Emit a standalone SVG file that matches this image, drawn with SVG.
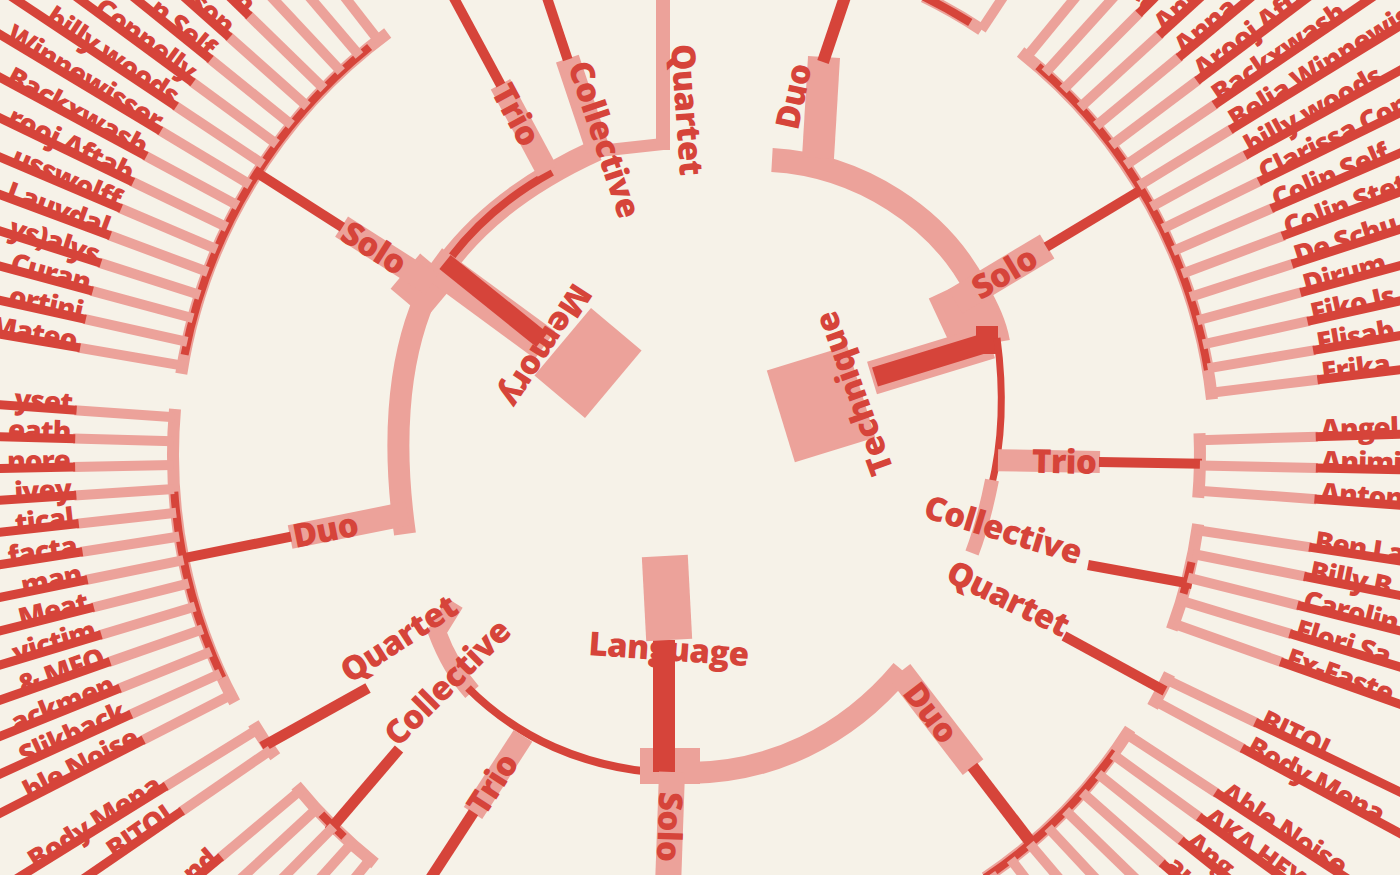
<svg xmlns="http://www.w3.org/2000/svg" xmlns:xlink="http://www.w3.org/1999/xlink" width="1400" height="875" viewBox="0 0 1400 875">
<style>
.lp{stroke:#eca29a;stroke-width:10;fill:none}
.ld{stroke:#d6443a;stroke-width:9;fill:none}
.ap{stroke:#eca29a;stroke-width:12;fill:none}
.ad{stroke:#d6443a;stroke-width:8;fill:none}
.sp{stroke:#eca29a;fill:none}
.sd{stroke:#d6443a;fill:none}
.pf{fill:#eca29a}
.df{fill:#d6443a}
text{font-family:"Open Sans","Noto Sans","Liberation Sans",sans-serif;font-weight:800;fill:#d6443a}
.n{font-size:28px;letter-spacing:-1px}
.b{font-size:33px;letter-spacing:-0.6px}
.e{text-anchor:end}
</style>
<defs>
<g id="R515"><line class="lp" x1="1215" y1="455" x2="1324" y2="455"/><line class="ld" x1="1322" y1="455" x2="1760" y2="455"/></g>
<g id="R500"><line class="lp" x1="1200" y1="455" x2="1318" y2="455"/><line class="ld" x1="1316" y1="455" x2="1760" y2="455"/></g>
<g id="R503"><line class="lp" x1="1203" y1="455" x2="1318" y2="455"/><line class="ld" x1="1316" y1="455" x2="1760" y2="455"/></g>
<g id="R518"><line class="lp" x1="1218" y1="455" x2="1318" y2="455"/><line class="ld" x1="1316" y1="455" x2="1760" y2="455"/></g>
<g id="R510"><line class="lp" x1="1210" y1="455" x2="1318" y2="455"/><line class="ld" x1="1316" y1="455" x2="1760" y2="455"/></g>
<g id="L525"><line class="lp" x1="175" y1="455" x2="69" y2="455"/><line class="ld" x1="71" y1="455" x2="-420" y2="455"/></g>
<g id="L527"><line class="lp" x1="173" y1="455" x2="73" y2="455"/><line class="ld" x1="75" y1="455" x2="-420" y2="455"/></g>
<g id="L521"><line class="lp" x1="179" y1="455" x2="70" y2="455"/><line class="ld" x1="72" y1="455" x2="-420" y2="455"/></g>
<g id="L522"><line class="lp" x1="178" y1="455" x2="73" y2="455"/><line class="ld" x1="75" y1="455" x2="-420" y2="455"/></g>
</defs>
<rect width="1400" height="875" fill="#f6f2e8"/>

<g id="connectors">
<path class="ap" d="M 1020.6,52 A 515 515 0 0 1 1212,399.4"/>
<path class="ad" d="M 1037.9,66.3 A 515 515 0 0 1 1207.9,370"/>
<path class="ap" d="M 923.6,-3.4 A 510 510 0 0 1 981.5,29.7"/>
<path class="ad" d="M 923.6,-3.4 A 510 510 0 0 1 970.3,22.5"/>
<path class="ap" d="M 1199.5,433.2 A 500 500 0 0 1 1198.2,497.7"/>
<path class="ap" d="M 1198.2,524.1 A 503 503 0 0 1 1171.8,629.5"/>
<path class="ad" d="M 1191.5,562.2 A 503 503 0 0 1 1183.5,593.6"/>
<path class="ap" d="M 1169.5,673.9 A 518 518 0 0 1 1152.6,706.9"/>
<path class="ap" d="M 1130.1,729 A 510 510 0 0 1 985.2,877.8"/>
<path class="ad" d="M 1115.2,751.2 A 510 510 0 0 1 985.2,877.8"/>
<path class="ap" d="M 181.3,373.8 A 525 525 0 0 1 387.7,33"/>
<path class="ad" d="M 184.6,354.8 A 525 525 0 0 1 369.6,47"/>
<path class="ap" d="M 234.7,702.4 A 527 527 0 0 1 175,409.1"/>
<path class="ad" d="M 222.4,677.7 A 527 527 0 0 1 174.3,491.8"/>
<path class="ap" d="M 275.3,756.8 A 521 521 0 0 1 253.4,723.3"/>
<path class="ap" d="M 375,863.5 A 522 522 0 0 1 296.1,785.6"/>
<path class="ad" d="M 344,836.8 A 522 522 0 0 1 321.4,814.3"/>

<path class="sp" stroke-width="22" d="M 405,534 C 393,450 396,365 425,298 C 460,232 520,185 597,150"/>
<path class="sp" stroke-width="12" d="M 590,152 L 663,144"/>
<path class="sd" stroke-width="8" d="M 428,292 C 462,232 510,195 552,172"/>
<rect class="pf" x="-23" y="-23" width="46" height="46" transform="translate(423,286) rotate(40)"/>
<line class="sp" stroke-width="34" x1="432" y1="262" x2="545" y2="345"/>
<line class="sd" stroke-width="18" x1="445" y1="262" x2="542" y2="340"/>
<g transform="rotate(32.5 700 455)"><line class="sp" stroke-width="24" x1="382" y1="455" x2="275" y2="455"/><line class="sd" stroke-width="10" x1="276" y1="455" x2="172" y2="455"/></g>
<g transform="rotate(-11.3 700 455)"><line class="sp" stroke-width="24" x1="402" y1="455" x2="282" y2="455"/><line class="sd" stroke-width="10" x1="283" y1="455" x2="170" y2="455"/></g>
<g transform="rotate(61.7 700 455)"><line class="sp" stroke-width="22" x1="378" y1="455" x2="279" y2="455"/><line class="sd" stroke-width="10" x1="280" y1="455" x2="150" y2="455"/></g>
<g transform="rotate(71.5 700 455)"><line class="sp" stroke-width="24" x1="378" y1="455" x2="282" y2="455"/><line class="sd" stroke-width="10" x1="283" y1="455" x2="150" y2="455"/></g>
<line class="sp" stroke-width="14" x1="663" y1="150" x2="663" y2="-5"/>

<path class="sp" stroke-width="24" d="M 772,160 C 860,165 940,218 976,288 C 988,310 995,325 998,342"/>
<line class="sp" stroke-width="32" x1="818" y1="158" x2="824" y2="57"/>
<line class="sd" stroke-width="12" x1="823" y1="62" x2="846" y2="-6"/>
<rect class="pf" x="-28" y="-28" width="56" height="56" transform="translate(966,312) rotate(-25)"/>
<line class="sp" stroke-width="34" x1="872" y1="378" x2="990" y2="342"/>
<line class="sd" stroke-width="20" x1="875" y1="377" x2="992" y2="341"/>
<rect class="df" x="976" y="326" width="22" height="28"/>
<path class="sd" stroke-width="7" d="M 997,338 C 1004,390 1003,440 991,488"/>
<path class="sp" stroke-width="14" d="M 992,480 C 987,505 982,527 972,553"/>
<g transform="rotate(-31 700 455)"><line class="sp" stroke-width="28" x1="998" y1="455" x2="1105" y2="455"/><line class="sd" stroke-width="10" x1="1104" y1="455" x2="1217" y2="455"/></g>
<g transform="rotate(1 700 455)"><line class="sp" stroke-width="22" x1="998" y1="455" x2="1100" y2="455"/><line class="sd" stroke-width="10" x1="1099" y1="455" x2="1202" y2="455"/></g>
<line class="sd" stroke-width="10" x1="1088" y1="565" x2="1192" y2="584"/>
<line class="sd" stroke-width="10" x1="1064" y1="636" x2="1165" y2="691"/>

<path class="sp" stroke-width="18" d="M 455,603 L 437,632 C 446,656 456,674 472,692"/>
<path class="sd" stroke-width="8" d="M 468,688 C 520,740 585,766 652,772"/>
<path class="sp" stroke-width="22" d="M 690,773 C 770,772 845,738 902,670"/>
<rect class="pf" x="640" y="748" width="60" height="36"/>
<line class="sd" stroke-width="22" x1="664" y1="640" x2="664" y2="772"/>
<g transform="translate(672,772) rotate(92)"><line class="sp" stroke-width="26" x1="0" y1="0" x2="115" y2="0"/></g>
<g transform="translate(473,813) rotate(-57)"><line class="sp" stroke-width="22" x1="0" y1="0" x2="92" y2="0"/><line class="sd" stroke-width="11" x1="1" y1="0" x2="-78" y2="0"/></g>
<line class="sd" stroke-width="11" x1="399" y1="749" x2="329" y2="831"/>
<line class="sd" stroke-width="11" x1="262" y1="747" x2="368" y2="688"/>
<g transform="translate(900,672) rotate(52.5)"><line class="sp" stroke-width="26" x1="0" y1="0" x2="120" y2="0"/><line class="sd" stroke-width="12" x1="119" y1="0" x2="215" y2="0"/></g>
</g>

<g id="memory">
<rect class="pf" x="-33" y="-44" width="66" height="88" transform="translate(588,363) rotate(40)"/>
<text class="b" transform="translate(574,281) rotate(123)">Memory</text>
</g>
<g id="technique">
<rect class="pf" x="-42" y="-48" width="84" height="96" transform="translate(821,404) rotate(-17)"/>
<text class="b" transform="translate(894,470) rotate(-110)">Technique</text>
</g>
<g id="language">
<rect class="pf" x="-23" y="-42" width="46" height="84" transform="translate(667,598) rotate(-3)"/>
<text class="b" transform="translate(588,655) rotate(4)">Language</text>
</g>

<g id="m-solo"><text class="b" transform="rotate(32.5 700 455)" x="279" y="467">Solo</text></g>
<g id="m-duo"><text class="b" transform="rotate(-11.3 700 455)" x="285" y="467">Duo</text></g>
<g id="m-trio"><text class="b" transform="rotate(61.7 700 455)" x="281" y="467">Trio</text></g>
<g id="m-collective"><text class="b" transform="rotate(71.5 700 455)" x="289" y="457">Collective</text></g>
<g id="m-quartet"><text class="b" transform="translate(671,45) rotate(86)">Quartet</text></g>
<g id="t-duo"><text class="b" transform="translate(798,131) rotate(-78)">Duo</text></g>
<g id="t-solo"><text class="b" transform="rotate(-31 700 455)" x="1020" y="467">Solo</text></g>
<g id="t-trio"><text class="b" transform="rotate(1 700 455)" x="1032" y="467">Trio</text></g>
<g id="t-collective"><text class="b" transform="translate(922,517) rotate(17)">Collective</text></g>
<g id="t-quartet"><text class="b" transform="translate(944,580) rotate(26)">Quartet</text></g>
<g id="l-solo"><text class="b" transform="translate(672,772) rotate(92)" x="20" y="12">Solo</text></g>
<g id="l-trio"><text class="b" transform="translate(473,813) rotate(-57)" x="3" y="12">Trio</text></g>
<g id="l-collective"><text class="b" transform="translate(398,748) rotate(-45)">Collective</text></g>
<g id="l-quartet"><text class="b" transform="translate(350,684) rotate(-33)">Quartet</text></g>
<g id="l-duo"><text class="b" transform="translate(900,672) rotate(52.5)" x="18" y="12">Duo</text></g>

<use href="#R515" transform="rotate(-50.63 700 455)"/>
<use href="#R515" transform="rotate(-47.9 700 455)"/>
<g id="ts1" transform="rotate(-45.17 700 455)"><use href="#R515"/><text class="n" x="1327" y="458">aly</text></g>
<g id="ts2" transform="rotate(-42.44 700 455)"><use href="#R515"/><text class="n" x="1327" y="458">Ania W</text></g>
<g id="ts3" transform="rotate(-39.71 700 455)"><use href="#R515"/><text class="n" x="1327" y="458">Anna W</text></g>
<g id="ts4" transform="rotate(-36.98 700 455)"><use href="#R515"/><text class="n" x="1327" y="458">Arooj Aftab</text></g>
<g id="ts5" transform="rotate(-34.25 700 455)"><use href="#R515"/><text class="n" x="1327" y="458">Backxwash</text></g>
<g id="ts6" transform="rotate(-31.52 700 455)"><use href="#R515"/><text class="n" x="1327" y="458">Belia Winnewisser</text></g>
<g id="ts7" transform="rotate(-28.79 700 455)"><use href="#R515"/><text class="n" x="1327" y="458">billy woods</text></g>
<g id="ts8" transform="rotate(-26.06 700 455)"><use href="#R515"/><text class="n" x="1327" y="458">Clarissa Connelly</text></g>
<g id="ts9" transform="rotate(-23.33 700 455)"><use href="#R515"/><text class="n" x="1327" y="458">Colin Self</text></g>
<g id="ts10" transform="rotate(-20.6 700 455)"><use href="#R515"/><text class="n" x="1327" y="458">Colin Stetson</text></g>
<g id="ts11" transform="rotate(-17.87 700 455)"><use href="#R515"/><text class="n" x="1327" y="458">De Schu</text></g>
<g id="ts12" transform="rotate(-15.14 700 455)"><use href="#R515"/><text class="n" x="1327" y="458">Dirum</text></g>
<g id="ts13" transform="rotate(-12.41 700 455)"><use href="#R515"/><text class="n" x="1327" y="458">Eiko Is</text></g>
<g id="ts14" transform="rotate(-9.68 700 455)"><use href="#R515"/><text class="n" x="1327" y="458">Elisab</text></g>
<g id="ts15" transform="rotate(-6.95 700 455)"><use href="#R515"/><text class="n" x="1327" y="458">Erika</text></g>
<use href="#R510" transform="rotate(-56.5 700 455)"/>

<g id="tt1" transform="rotate(-1.7 700 455)"><use href="#R500"/><text class="n" x="1321" y="458">Angel</text></g>
<g id="tt2" transform="rotate(1.2 700 455)"><use href="#R500"/><text class="n" x="1321" y="458">Animi</text></g>
<g id="tt3" transform="rotate(4.1 700 455)"><use href="#R500"/><text class="n" x="1321" y="458">Anton</text></g>

<g id="tc1" transform="rotate(8.6 700 455)"><use href="#R503"/><text class="n" x="1321" y="458">Ben La</text></g>
<g id="tc2" transform="rotate(11.35 700 455)"><use href="#R503"/><text class="n" x="1321" y="458">Billy B</text></g>
<g id="tc3" transform="rotate(14.1 700 455)"><use href="#R503"/><text class="n" x="1321" y="458">Carolin</text></g>
<g id="tc4" transform="rotate(16.85 700 455)"><use href="#R503"/><text class="n" x="1321" y="458">Elori Sa</text></g>
<g id="tc5" transform="rotate(19.6 700 455)"><use href="#R503"/><text class="n" x="1321" y="458">Ex-Easte</text></g>

<g id="tq1" transform="rotate(25.7 700 455)"><use href="#R518"/><text class="n" x="1321" y="458">BITOL</text></g>
<g id="tq2" transform="rotate(28.4 700 455)"><use href="#R518"/><text class="n" x="1321" y="458">Body Mena</text></g>

<g id="ld1" transform="rotate(33.2 700 455)"><use href="#R510"/><text class="n" x="1321" y="458">Able Noise</text></g>
<g id="ld2" transform="rotate(35.95 700 455)"><use href="#R510"/><text class="n" x="1321" y="458">AKA HEY</text></g>
<g id="ld3" transform="rotate(38.7 700 455)"><use href="#R510"/><text class="n" x="1321" y="458">Ang</text></g>
<g id="ld4" transform="rotate(41.45 700 455)"><use href="#R510"/><text class="n" x="1321" y="458">au</text></g>
<use href="#R510" transform="rotate(44.2 700 455)"/>
<use href="#R510" transform="rotate(46.95 700 455)"/>
<use href="#R510" transform="rotate(49.7 700 455)"/>
<use href="#R510" transform="rotate(52.45 700 455)"/>
<use href="#R510" transform="rotate(55.2 700 455)"/>

<g id="ms1" transform="rotate(9.8 700 455)"><use href="#L525"/><text class="n e" x="66" y="458">Mateo</text></g>
<g id="ms2" transform="rotate(12.45 700 455)"><use href="#L525"/><text class="n e" x="66" y="458">ortini</text></g>
<g id="ms3" transform="rotate(15.1 700 455)"><use href="#L525"/><text class="n e" x="66" y="458">Curan</text></g>
<g id="ms4" transform="rotate(17.75 700 455)"><use href="#L525"/><text class="n e" x="66" y="458">ys)alys</text></g>
<g id="ms5" transform="rotate(20.4 700 455)"><use href="#L525"/><text class="n e" x="66" y="458">Lauvdal</text></g>
<g id="ms6" transform="rotate(23.05 700 455)"><use href="#L525"/><text class="n e" x="66" y="458">usswolff</text></g>
<g id="ms7" transform="rotate(25.7 700 455)"><use href="#L525"/><text class="n e" x="66" y="458">rooj Aftab</text></g>
<g id="ms8" transform="rotate(28.35 700 455)"><use href="#L525"/><text class="n e" x="66" y="458">Backxwash</text></g>
<g id="ms9" transform="rotate(31 700 455)"><use href="#L525"/><text class="n e" x="66" y="458">Winnewisser</text></g>
<g id="ms10" transform="rotate(33.65 700 455)"><use href="#L525"/><text class="n e" x="66" y="458">billy woods</text></g>
<g id="ms11" transform="rotate(36.3 700 455)"><use href="#L525"/><text class="n e" x="66" y="458">Connelly</text></g>
<g id="ms12" transform="rotate(38.95 700 455)"><use href="#L525"/><text class="n e" x="66" y="458">n Self</text></g>
<g id="ms13" transform="rotate(41.6 700 455)"><use href="#L525"/><text class="n e" x="66" y="458">son</text></g>
<g id="ms14" transform="rotate(44.25 700 455)"><use href="#L525"/><text class="n e" x="66" y="458">n</text></g>
<use href="#L525" transform="rotate(46.9 700 455)"/>
<use href="#L525" transform="rotate(49.55 700 455)"/>
<use href="#L525" transform="rotate(52.2 700 455)"/>

<g id="md1" transform="rotate(4.1 700 455)"><use href="#L527"/><text class="n e" x="70" y="458">yset</text></g>
<g id="md2" transform="rotate(1.5 700 455)"><use href="#L527"/><text class="n e" x="70" y="458">eath</text></g>
<g id="md3" transform="rotate(-1.1 700 455)"><use href="#L527"/><text class="n e" x="70" y="458">nore</text></g>
<g id="md4" transform="rotate(-3.7 700 455)"><use href="#L527"/><text class="n e" x="70" y="458">ivey</text></g>
<g id="md5" transform="rotate(-6.3 700 455)"><use href="#L527"/><text class="n e" x="70" y="458">tical</text></g>
<g id="md6" transform="rotate(-8.9 700 455)"><use href="#L527"/><text class="n e" x="70" y="458">facta</text></g>
<g id="md7" transform="rotate(-11.5 700 455)"><use href="#L527"/><text class="n e" x="70" y="458">man</text></g>
<g id="md8" transform="rotate(-14.1 700 455)"><use href="#L527"/><text class="n e" x="70" y="458">Meat</text></g>
<g id="md9" transform="rotate(-16.7 700 455)"><use href="#L527"/><text class="n e" x="70" y="458">victim</text></g>
<g id="md10" transform="rotate(-19.3 700 455)"><use href="#L527"/><text class="n e" x="70" y="458">&amp; MFO</text></g>
<g id="md11" transform="rotate(-21.9 700 455)"><use href="#L527"/><text class="n e" x="70" y="458">ackmen</text></g>
<g id="md12" transform="rotate(-24.5 700 455)"><use href="#L527"/><text class="n e" x="70" y="458">Slikback</text></g>
<g id="md13" transform="rotate(-27.1 700 455)"><use href="#L527"/><text class="n e" x="70" y="458">ble Noise</text></g>

<g id="lq1" transform="rotate(-31.8 700 455)"><use href="#L521"/><text class="n e" x="67" y="458">Body Mena</text></g>
<g id="lq2" transform="rotate(-34.5 700 455)"><use href="#L521"/><text class="n e" x="67" y="458">BITOL</text></g>

<g id="lc1" transform="rotate(-40 700 455)"><use href="#L522"/><text class="n e" x="70" y="458">nd</text></g>
<use href="#L522" transform="rotate(-42.7 700 455)"/>
<use href="#L522" transform="rotate(-45.4 700 455)"/>
<use href="#L522" transform="rotate(-48.1 700 455)"/>
<use href="#L522" transform="rotate(-50.8 700 455)"/>
</svg>
